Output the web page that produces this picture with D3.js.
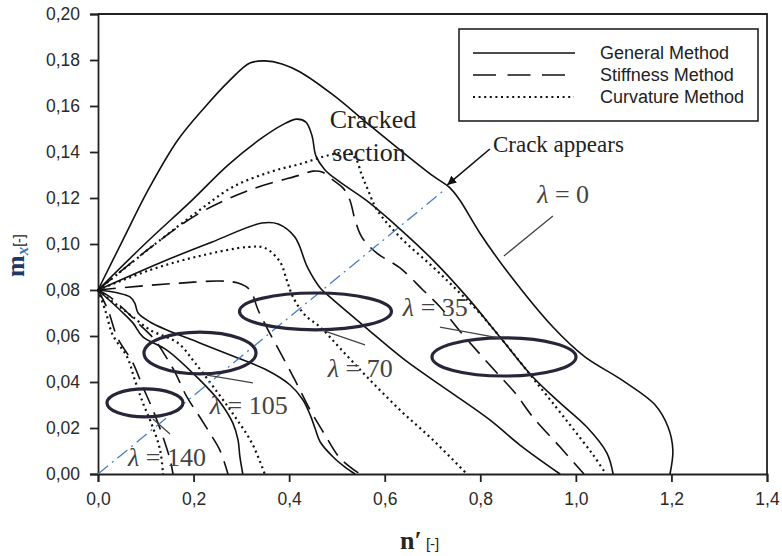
<!DOCTYPE html>
<html><head><meta charset="utf-8">
<script src="https://cdn.jsdelivr.net/npm/d3@7"></script>
<style>
html,body{margin:0;padding:0;background:#fff;}
svg{display:block;}
</style></head>
<body>
<svg id="chart" width="782" height="556"></svg>
<script>
// ---------- data (n', m_x) ----------
const xTicks = [0,0.2,0.4,0.6,0.8,1.0,1.2,1.4];
const yTicks = [0,0.02,0.04,0.06,0.08,0.10,0.12,0.14,0.16,0.18,0.20];
const methods = ["General Method","Stiffness Method","Curvature Method"];

const lam0_general = [[0,0.080],[0.052,0.1017],[0.105,0.1235],[0.167,0.1452],[0.224,0.1596],[0.272,0.1704],[0.318,0.1787],[0.349,0.1796],[0.385,0.1783],[0.423,0.1748],[0.492,0.1648],[0.563,0.1526],[0.632,0.1409],[0.701,0.1296],[0.737,0.1243],[0.757,0.1191],[0.799,0.1048],[0.862,0.0865],[0.952,0.0639],[1.019,0.0509],[1.096,0.0409],[1.166,0.0300],[1.193,0.0204],[1.203,0.0104],[1.197,0.000]];

const lam35_general = [[0,0.080],[0.098,0.100],[0.197,0.1191],[0.272,0.1343],[0.343,0.1461],[0.385,0.1517],[0.416,0.1543],[0.435,0.1530],[0.448,0.1470],[0.456,0.1383],[0.475,0.1322],[0.506,0.1270],[0.563,0.1187],[0.632,0.1065],[0.701,0.0930],[0.772,0.0770],[0.841,0.0596],[0.910,0.0422],[0.967,0.0309],[1.023,0.0204],[1.065,0.0091],[1.078,0.000]];
const lam35_stiffness = [[0,0.080],[0.109,0.0983],[0.213,0.1135],[0.318,0.1235],[0.423,0.130],[0.450,0.1317],[0.469,0.1313],[0.492,0.1278],[0.513,0.1243],[0.527,0.1191],[0.538,0.1104],[0.552,0.1030],[0.583,0.0961],[0.632,0.0896],[0.680,0.080],[0.716,0.0726],[0.757,0.0622],[0.799,0.0522],[0.835,0.0439],[0.873,0.0352],[0.910,0.0248],[0.967,0.0117],[1.017,0.000]];
const lam35_curvature = [[0,0.080],[0.046,0.0878],[0.130,0.1017],[0.213,0.1148],[0.282,0.1248],[0.360,0.1313],[0.423,0.1348],[0.485,0.1387],[0.517,0.1396],[0.538,0.1374],[0.552,0.130],[0.565,0.1235],[0.584,0.1148],[0.632,0.1030],[0.701,0.090],[0.751,0.080],[0.793,0.0713],[0.841,0.0596],[0.925,0.0378],[0.988,0.0213],[1.036,0.0083],[1.063,0.000]];

const lam70_general = [[0,0.080],[0.134,0.0922],[0.239,0.1009],[0.343,0.1091],[0.377,0.1087],[0.412,0.1030],[0.439,0.0896],[0.465,0.0809],[0.490,0.0761],[0.559,0.0639],[0.642,0.0496],[0.737,0.0357],[0.820,0.0235],[0.883,0.0126],[0.967,0.000]];
const lam70_stiffness = [[0,0.080],[0.088,0.0817],[0.172,0.0830],[0.255,0.0839],[0.293,0.0830],[0.318,0.080],[0.335,0.0713],[0.356,0.0626],[0.381,0.0530],[0.412,0.0409],[0.444,0.0278],[0.475,0.0170],[0.506,0.0070],[0.548,0.000]];
const lam70_curvature = [[0,0.080],[0.109,0.0887],[0.213,0.0948],[0.314,0.0987],[0.349,0.0983],[0.381,0.0922],[0.395,0.0843],[0.408,0.0770],[0.433,0.0691],[0.465,0.0639],[0.506,0.0548],[0.563,0.0422],[0.632,0.0278],[0.701,0.0148],[0.772,0.000]];

const lam105_general = [[0,0.080],[0.042,0.0787],[0.067,0.0770],[0.077,0.0743],[0.084,0.070],[0.109,0.0661],[0.144,0.0626],[0.213,0.0570],[0.282,0.0513],[0.353,0.0452],[0.402,0.0387],[0.429,0.0322],[0.444,0.0257],[0.454,0.0200],[0.465,0.0139],[0.492,0.0074],[0.517,0.0030],[0.538,0.000]];
const lam105_stiffness = [[0,0.080],[0.025,0.0770],[0.056,0.0713],[0.088,0.0648],[0.119,0.0583],[0.140,0.0517],[0.161,0.0443],[0.186,0.0335],[0.213,0.0248],[0.234,0.0178],[0.255,0.0104],[0.272,0.000]];
const lam105_curvature = [[0,0.080],[0.025,0.0757],[0.046,0.0726],[0.073,0.0683],[0.109,0.0626],[0.167,0.0570],[0.203,0.0483],[0.251,0.0352],[0.287,0.0248],[0.322,0.0135],[0.349,0.000]];

const lam140_general = [[0,0.080],[0.046,0.0713],[0.073,0.0657],[0.094,0.0596],[0.144,0.0539],[0.213,0.0409],[0.255,0.0313],[0.282,0.0222],[0.293,0.0148],[0.297,0.0074],[0.303,0.000]];
const lam140_stiffness = [[0,0.080],[0.021,0.0713],[0.040,0.0596],[0.073,0.0483],[0.094,0.0378],[0.115,0.0278],[0.136,0.0161],[0.151,0.0061],[0.157,0.000]];
const lam140_curvature = [[0,0.080],[0.015,0.0713],[0.031,0.0604],[0.061,0.0509],[0.077,0.0409],[0.094,0.0309],[0.113,0.0213],[0.130,0.0104],[0.136,0.000]];

// crack-appearance line (n', m_x)
const crackLine = [[0,0],[0.722,0.123]];

// annotations (data coordinates)
const lambdaLabels = ["0","35","70","105","140"];
const lambdaLabelPos = [[0.919,0.1178],[0.638,0.0687],[0.481,0.0422],[0.234,0.0261],[0.063,0.0035]];
const lambdaLeaders = [[[0.952,0.1122],[0.8495,0.0948]],[[0.7156,0.0639],[0.8412,0.0591]],[[0.4687,0.0626],[0.5587,0.0561]],[[0.2281,0.0430],[0.3243,0.0396]],[[0.1151,0.0239],[0.1507,0.0174]]];
const ellipseCenters = [[0.8496,0.0509],[0.4551,0.0707],[0.2134,0.0526],[0.0983,0.0309]];
const ellipseRadii = [[0.1507,0.0083],[0.159,0.0080],[0.1172,0.0091],[0.0795,0.0061]];

// ---------- drawing ----------
const svg = d3.select("#chart");
svg.append("rect").attr("width",782).attr("height",556).attr("fill","#fff");

const x = d3.scaleLinear().domain([0,1.4]).range([98,767]);
const y = d3.scaleLinear().domain([0,0.2]).range([474,14]);
const fmtX = d => d3.format(".1f")(d).replace(".",",");
const fmtY = d => d3.format(".2f")(d).replace(".",",");

// frame (top & right)
svg.append("path").attr("d",`M${x(0)},${y(0.2)}H${x(1.4)}V${y(0)}`)
  .attr("fill","none").attr("stroke","#222").attr("stroke-width",1.8);

const gx = svg.append("g").attr("transform",`translate(0,${y(0)})`)
  .call(d3.axisBottom(x).tickValues(xTicks).tickFormat(fmtX).tickSize(8).tickPadding(11));
const gy = svg.append("g").attr("transform",`translate(${x(0)},0)`)
  .call(d3.axisLeft(y).tickValues(yTicks).tickFormat(fmtY).tickSize(8).tickPadding(10));
[gx,gy].forEach(g=>{
  g.select(".domain").attr("stroke","#222").attr("stroke-width",1.8);
  g.selectAll(".tick line").attr("stroke","#222").attr("stroke-width",1.8);
  g.selectAll(".tick text").attr("fill","#2a2a2a").style("font-family","'Liberation Sans',Arial,sans-serif").style("font-size","17.5px");
});

// curves
const line = d3.line().x(d=>x(d[0])).y(d=>y(d[1])).curve(d3.curveCatmullRom.alpha(0.5));
const styles = {
  general:{dash:null,w:1.6},
  stiffness:{dash:"18,9",w:1.6},
  curvature:{dash:"2,3.6",w:2.2}
};
const series = [
  [lam0_general,"general"],
  [lam35_general,"general"],[lam35_stiffness,"stiffness"],[lam35_curvature,"curvature"],
  [lam70_general,"general"],[lam70_stiffness,"stiffness"],[lam70_curvature,"curvature"],
  [lam105_general,"general"],[lam105_stiffness,"stiffness"],[lam105_curvature,"curvature"],
  [lam140_general,"general"],[lam140_stiffness,"stiffness"],[lam140_curvature,"curvature"]
];
const gc = svg.append("g");
series.forEach(([data,kind])=>{
  const s = styles[kind];
  gc.append("path").attr("d",line(data)).attr("fill","none")
    .attr("stroke","#111").attr("stroke-width",s.w)
    .attr("stroke-dasharray",s.dash);
});

// crack line
svg.append("path").attr("d",d3.line().x(d=>x(d[0])).y(d=>y(d[1]))(crackLine))
  .attr("fill","none").attr("stroke","#4a7ebf").attr("stroke-width",1.3)
  .attr("stroke-dasharray","13,5,2,5");

// ellipses
ellipseCenters.forEach((c,i)=>{
  const r = ellipseRadii[i];
  svg.append("ellipse").attr("cx",x(c[0])).attr("cy",y(c[1]))
    .attr("rx",x(r[0])-x(0)).attr("ry",y(0)-y(r[1]))
    .attr("fill","none").attr("stroke","#262638").attr("stroke-width",3.2);
});

// lambda leaders & labels
lambdaLeaders.forEach(l=>{
  svg.append("line").attr("x1",x(l[0][0])).attr("y1",y(l[0][1]))
    .attr("x2",x(l[1][0])).attr("y2",y(l[1][1]))
    .attr("stroke","#444").attr("stroke-width",1.3);
});
const serif = "'Liberation Serif','Times New Roman',serif";
lambdaLabels.forEach((t,i)=>{
  const p = lambdaLabelPos[i];
  const tx = svg.append("text").attr("x",x(p[0])).attr("y",y(p[1]))
    .style("font-family",serif).style("font-size","26px")
    .attr("fill","#444");
  tx.append("tspan").style("font-style","italic").text("λ");
  tx.append("tspan").text(" = "+t);
});

// Cracked section & Crack appears
svg.append("text").attr("x",x(0.485)).attr("y",y(0.1504)).style("font-family",serif).style("font-size","26px").attr("fill","#222").text("Cracked");
svg.append("text").attr("x",x(0.49)).attr("y",y(0.136)).style("font-family",serif).style("font-size","26px").attr("fill","#222").text("section");
svg.append("text").attr("x",x(0.8265)).attr("y",y(0.140)).style("font-family",serif).style("font-size","23px").attr("fill","#222").text("Crack appears");

svg.append("defs").append("marker").attr("id","ah").attr("viewBox","0 0 10 10")
  .attr("refX",10).attr("refY",5).attr("markerWidth",9).attr("markerHeight",9)
  .attr("markerUnits","userSpaceOnUse").attr("orient","auto")
  .append("path").attr("d","M0,0L10,5L0,10z").attr("fill","#111");
svg.append("line").attr("x1",x(0.820)).attr("y1",y(0.1413)).attr("x2",x(0.731)).attr("y2",y(0.1257))
  .attr("stroke","#111").attr("stroke-width",1.6).attr("marker-end","url(#ah)");

// legend
const lg = svg.append("g");
lg.append("rect").attr("x",459).attr("y",29).attr("width",299).attr("height",92)
  .attr("fill","#fff").attr("stroke","#222").attr("stroke-width",1.6);
const lkinds = ["general","stiffness","curvature"];
const legendDash = {general:null,stiffness:"23,11.5",curvature:"2,3.6"};
const legendEnd = {general:575,stiffness:566,curvature:574};
methods.forEach((m,i)=>{
  const yy = 53 + i*22;
  const k = lkinds[i];
  const s = styles[k];
  lg.append("line").attr("x1",473).attr("x2",legendEnd[k]).attr("y1",yy).attr("y2",yy)
    .attr("stroke","#111").attr("stroke-width",s.w).attr("stroke-dasharray",legendDash[k]);
  lg.append("text").attr("x",600).attr("y",yy+6).text(m)
    .style("font-family","'Liberation Sans',Arial,sans-serif").style("font-size","18px").attr("fill","#222");
});

// axis labels
const yl = svg.append("text").attr("transform","translate(24,277) rotate(-90)");
yl.append("tspan").text("m").style("font-family",serif).style("font-weight","bold").style("font-size","26px").attr("fill","#1f3864");
yl.append("tspan").text("x").style("font-family",serif).style("font-style","italic").style("font-weight","bold").style("font-size","17px").attr("fill","#2e75b6").attr("dy",4);
yl.append("tspan").text("[-]").style("font-family","'Liberation Sans',Arial,sans-serif").style("font-size","14px").attr("fill","#222").attr("dy",-4);

const xl = svg.append("text").attr("x",400).attr("y",549);
xl.append("tspan").text("n′").style("font-family",serif).style("font-weight","bold").style("font-size","26px").attr("fill","#262626");
xl.append("tspan").text(" [-]").style("font-family","'Liberation Sans',Arial,sans-serif").style("font-size","15px").attr("fill","#222");
</script>
</body></html>
